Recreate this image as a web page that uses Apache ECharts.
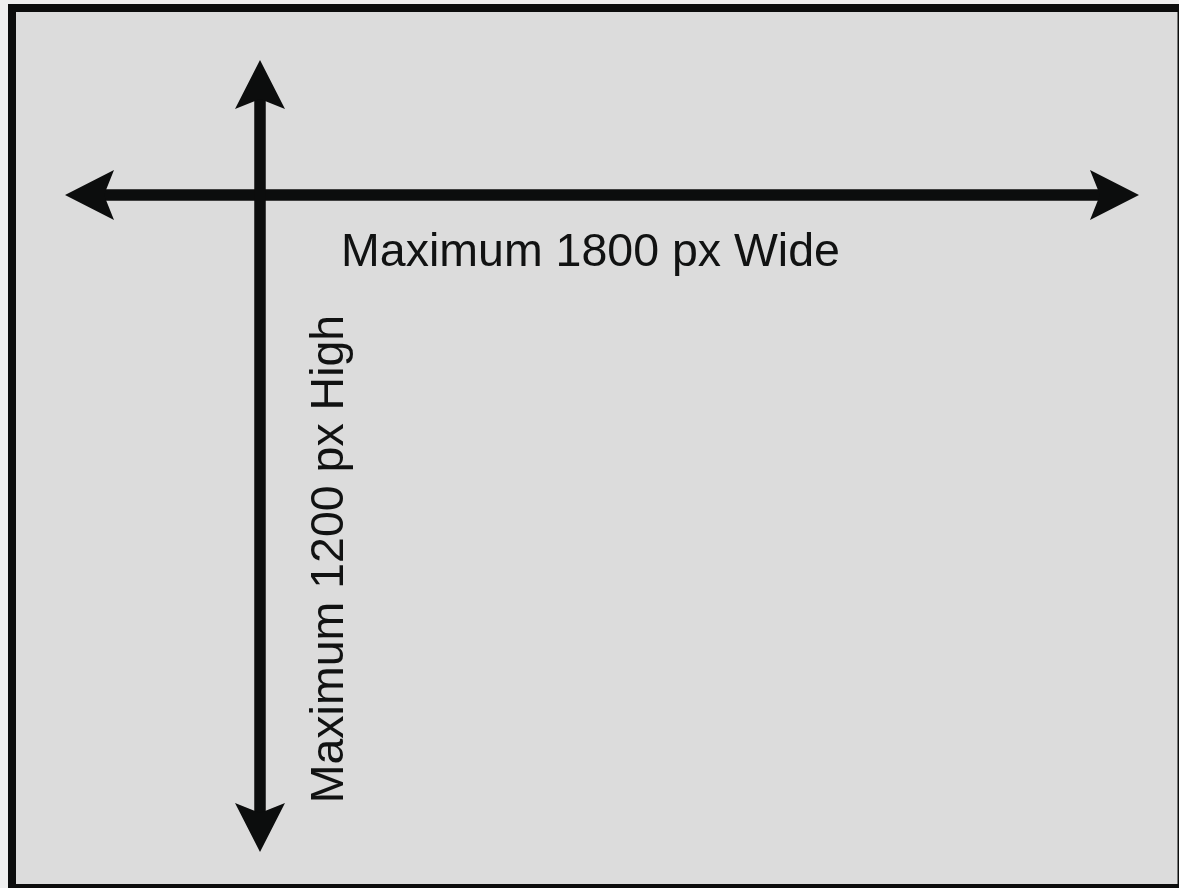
<!DOCTYPE html>
<html>
<head>
<meta charset="utf-8">
<title>Maximum image size</title>
<script src="https://cdn.jsdelivr.net/npm/echarts@6/dist/echarts.min.js"></script>
<style>
  html, body { margin: 0; padding: 0; background: #efefef; }
  #chart { width: 1179px; height: 888px; }
</style>
</head>
<body>
<div id="chart"></div>
<script>
// arrows, in page pixels (x to the right, y downwards)
const arrowNames = ['width', 'height'];
const arrowStart = [[65, 195], [260, 852]];
const arrowEnd = [[1139, 195], [260, 60]];

// labels
const labelTexts = ['Maximum 1800 px Wide', 'Maximum 1200 px High'];
const labelAnchor = [[590.5, 253], [330, 559]];
const labelAngle = [0, 90];

const chart = echarts.init(document.getElementById('chart'));

const HEAD_LEN = 49;
const HEAD_HALF = 25;
const NOTCH = 39;

// draws one double headed arrow
const renderArrow = (params, api) => {
    const i = params.dataIndex;
    const p0 = api.coord(arrowStart[i]);
    const p1 = api.coord(arrowEnd[i]);
    const dx = p1[0] - p0[0];
    const dy = p1[1] - p0[1];
    const len = Math.sqrt(dx * dx + dy * dy);
    const ux = dx / len, uy = dy / len;
    const nx = -uy, ny = ux;
    const head = (tip, sx, sy) => [
        tip,
        [tip[0] - sx * HEAD_LEN + nx * HEAD_HALF, tip[1] - sy * HEAD_LEN + ny * HEAD_HALF],
        [tip[0] - sx * NOTCH, tip[1] - sy * NOTCH],
        [tip[0] - sx * HEAD_LEN - nx * HEAD_HALF, tip[1] - sy * HEAD_LEN - ny * HEAD_HALF]
    ];
    return {
        type: 'group',
        children: [
            {
                type: 'line',
                shape: {
                    x1: p0[0] + ux * NOTCH, y1: p0[1] + uy * NOTCH,
                    x2: p1[0] - ux * NOTCH, y2: p1[1] - uy * NOTCH
                },
                style: { stroke: '#0c0d0d', lineWidth: 11.5 }
            },
            { type: 'polygon', shape: { points: head(p1, ux, uy) }, style: { fill: '#0c0d0d' } },
            { type: 'polygon', shape: { points: head(p0, -ux, -uy) }, style: { fill: '#0c0d0d' } }
        ]
    };
};

const renderLabel = (params, api) => {
    const i = params.dataIndex;
    const p = api.coord(labelAnchor[i]);
    return {
        type: 'text',
        x: p[0],
        y: p[1],
        rotation: labelAngle[i] * Math.PI / 180,
        style: {
            text: labelTexts[i],
            fill: '#111212',
            font: '46.5px "Liberation Sans", Arial, sans-serif',
            align: 'center',
            verticalAlign: 'middle'
        }
    };
};

chart.setOption({
    animation: false,
    backgroundColor: '#efefef',
    grid: { left: 0, right: 0, top: 0, bottom: 0 },
    xAxis: { type: 'value', min: 0, max: 1179, show: false },
    yAxis: { type: 'value', min: 0, max: 888, inverse: true, show: false },
    graphic: [
        // frame
        { type: 'rect', z: -10, shape: { x: 8, y: 4, width: 1171, height: 890 }, style: { fill: '#0c0d0d' } },
        { type: 'rect', z: -9, shape: { x: 16, y: 12, width: 1161.5, height: 872 }, style: { fill: '#dcdcdc' } }
    ],
    series: [
        {
            type: 'custom',
            name: 'arrows',
            renderItem: renderArrow,
            data: arrowNames.map((n, i) => [...arrowStart[i], ...arrowEnd[i]]),
            silent: true
        },
        {
            type: 'custom',
            name: 'labels',
            renderItem: renderLabel,
            data: labelTexts.map((t, i) => labelAnchor[i]),
            silent: true
        }
    ]
});
</script>
</body>
</html>
